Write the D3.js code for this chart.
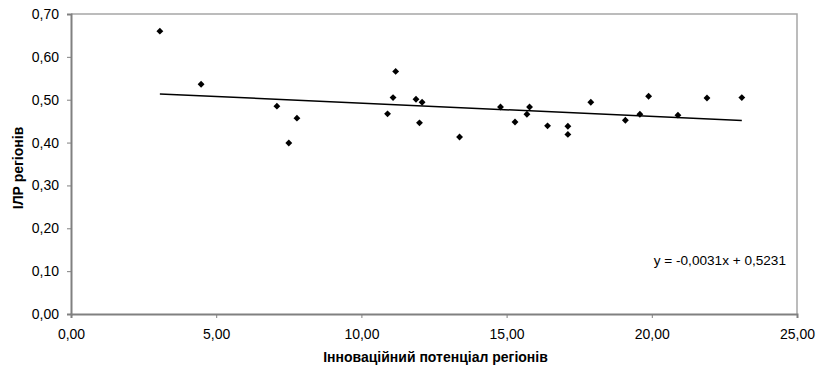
<!DOCTYPE html>
<html><head><meta charset="utf-8">
<script src="https://cdn.jsdelivr.net/npm/d3@7"></script>
<style>body{margin:0;background:#fff}svg{display:block}text{font-family:"Liberation Sans",Arial,sans-serif}</style>
</head><body><svg id="c" width="817" height="365"></svg>
<script>
const xValues = [3.06,4.48,7.09,7.50,7.78,10.90,11.09,11.18,11.88,12.00,12.09,13.38,14.79,15.29,15.70,15.79,16.41,17.11,17.11,17.90,19.09,19.59,19.89,20.90,21.90,23.10];
const yValues = [0.660,0.536,0.485,0.399,0.457,0.467,0.505,0.566,0.501,0.446,0.494,0.413,0.483,0.448,0.466,0.483,0.439,0.438,0.419,0.494,0.452,0.466,0.508,0.464,0.504,0.505];
const xTicks = [0,5,10,15,20,25];
const yTicks = [0,0.1,0.2,0.3,0.4,0.5,0.6,0.7];
const trendSlope = -0.0031, trendIntercept = 0.5231;
const trendLabel = "y = -0,0031x + 0,5231";
const xTitle = "Інноваційний потенціал регіонів";
const yTitle = "ІЛР регіонів";

const svg = d3.select("#c");
const L=71, R=797, T=14, B=314;
const x = d3.scaleLinear().domain([0,25]).range([L,R]);
const y = d3.scaleLinear().domain([0,0.7]).range([B,T]);
const fmt = d => d3.format(".2f")(d).replace(".", ",");

// frame top/right
svg.append("path").attr("d",`M${L},${T}H${R}V${B}`).attr("fill","none").attr("stroke","#a6a6a6").attr("stroke-width",1.5);

const gx = svg.append("g").attr("transform",`translate(0,${B})`)
  .call(d3.axisBottom(x).tickValues(xTicks).tickFormat(fmt).tickSize(4).tickPadding(11));
const gy = svg.append("g").attr("transform",`translate(${L},0)`)
  .call(d3.axisLeft(y).tickValues(yTicks).tickFormat(fmt).tickSize(4).tickPadding(8));
[gx,gy].forEach(g=>{
  g.selectAll(".domain").attr("stroke","#808080").attr("stroke-width",2);
  g.selectAll(".tick line").attr("stroke","#808080");
  g.selectAll("text").attr("font-size",14).attr("fill","#000").attr("font-family","Liberation Sans, Arial, sans-serif");
});

// trendline
const x0 = d3.min(xValues), x1 = d3.max(xValues);
svg.append("line")
  .attr("x1",x(x0)).attr("y1",y(trendSlope*x0+trendIntercept))
  .attr("x2",x(x1)).attr("y2",y(trendSlope*x1+trendIntercept))
  .attr("stroke","#000").attr("stroke-width",1.5);

// points
svg.append("g").selectAll("path").data(xValues.map((v,i)=>[v,yValues[i]])).join("path")
  .attr("d", d3.symbol(d3.symbolDiamond2 || d3.symbolDiamond, 30))
  .attr("transform", d=>`translate(${x(d[0])},${y(d[1])})`)
  .attr("fill","#000");

svg.append("text").attr("x",786).attr("y",265).attr("text-anchor","end").attr("font-size",13.6).text(trendLabel);

svg.append("text").attr("x",435.5).attr("y",362).attr("text-anchor","middle").attr("font-size",14).attr("font-weight","bold").text(xTitle);
svg.append("text").attr("transform",`translate(23,168) rotate(-90)`).attr("text-anchor","middle").attr("font-size",14).attr("font-weight","bold").text(yTitle);
</script></body></html>
